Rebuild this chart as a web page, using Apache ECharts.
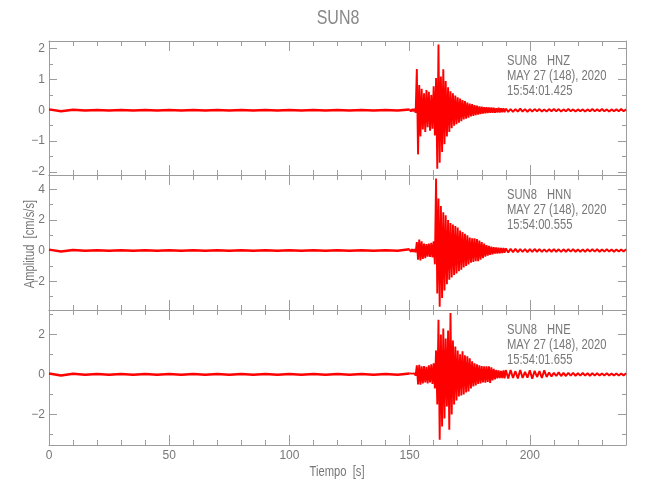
<!DOCTYPE html>
<html><head><meta charset="utf-8">
<script src="https://cdn.jsdelivr.net/npm/echarts@6/dist/echarts.min.js"></script>
<style>html,body{margin:0;padding:0;background:#fff}#c{width:650px;height:500px}</style>
</head><body><div id="c"></div>
<script>
// ---------------- data ----------------
const stationName = 'SUN8';
const dateLabel = 'MAY 27 (148), 2020';
const channels = ['HNZ', 'HNN', 'HNE'];
const startTimes = ['15:54:01.425', '15:54:00.555', '15:54:01.655'];
const xTitle = 'Tiempo  [s]';
const yTitle = 'Amplitud  [cm/s/s]';

const timeRange = [0, 240];
const timeTicks = [0, 50, 100, 150, 200];
const timeMinorTicks = [10,20,30,40,60,70,80,90,110,120,130,140,160,170,180,190,210,220,230];

const hnzRange = [-2.1, 2.25];
const hnzTicks = [-2, -1, 0, 1, 2];
const hnzMinorTicks = [-1.5, -0.5, 0.5, 1.5];
const hnnRange = [-3.88, 4.93];
const hnnTicks = [-2, 0, 2, 4];
const hnnMinorTicks = [-3, -1, 1, 3];
const hneRange = [-3.53, 3.22];
const hneTicks = [-2, 0, 2];
const hneMinorTicks = [-3, -1, 1, 3];

// sample timing of the three segments (s)
const preStart = 0, preStep = 5;
const eventStart = 150, eventStep = 0.5;
const tailStart = 191, tailStep = 1;

// HNZ
const hnzPre = [0.03,-0.03,0.02,-0.01,0.01,-0.01,0.01,-0.01,0.01,-0.01,0.01,-0.01,0.01,-0.01,0.01,-0.01,0.01,-0.01,0.01,-0.01,0.01,-0.01,0.01,-0.01,0.01,-0.01,0.01,-0.01,0.01,-0.01];
const hnzEvent = [0.03,-0.04,0.04,-0.03,0.05,-0.08,1.34,-1.43,0.82,-0.85,
  0.7,-0.62,0.55,-0.7,0.66,-0.55,0.6,-0.66,0.5,-0.6,
  0.78,-0.82,1.05,-1.9,2.14,-1.7,1.1,-1.35,1.33,-1.1,
  0.95,-0.85,0.75,-0.7,0.62,-0.58,0.55,-0.5,0.48,-0.45,
  0.42,-0.4,0.38,-0.35,0.33,-0.3,0.3,-0.27,0.25,-0.24,
  0.22,-0.2,0.2,-0.18,0.17,-0.16,0.15,-0.14,0.13,-0.12,
  0.12,-0.11,0.1,-0.1,0.1,-0.09,0.09,-0.08,0.09,-0.08,
  0.08,-0.08,0.07,-0.07,0.08,-0.07,0.07,-0.06,0.07,-0.06,0.06];
const hnzTail = [-0.05,0.04,-0.05,0.04,-0.04,0.05,-0.04,0.04,-0.05,0.04,-0.04,0.04,-0.03,0.04,-0.04,0.03,-0.04,0.04,-0.03,0.04,-0.03,0.04,-0.04,0.03,-0.03,0.04,-0.03,0.03,-0.04,0.03,-0.03,0.03,-0.04,0.03,-0.03,0.04,-0.03,0.03,-0.03,0.04,-0.03,0.03,-0.04,0.03,-0.03,0.03,-0.03,0.04,-0.03,0.03];

// HNN
const hnnPre = [0.06,-0.06,0.04,-0.02,0.02,-0.02,0.02,-0.02,0.02,-0.02,0.02,-0.02,0.02,-0.02,0.02,-0.02,0.02,-0.02,0.02,-0.02,0.02,-0.02,0.02,-0.02,0.02,-0.02,0.02,-0.02,0.02,-0.02];
const hnnEvent = [0.08,-0.09,0.1,-0.08,0.09,-0.12,0.55,-0.6,0.72,-0.65,
  0.6,-0.55,0.45,-0.5,0.42,-0.4,0.45,-0.42,0.5,-0.45,
  0.6,-0.9,4.7,-2.8,3.4,-3.66,2.9,-3.1,2.5,-2.6,
  2.3,-2.2,2.0,-1.9,1.8,-1.75,1.7,-1.6,1.6,-1.5,
  1.5,-1.35,1.3,-1.25,1.2,-1.1,1.1,-1.0,1.0,-0.9,
  0.85,-0.8,0.8,-0.75,0.8,-0.7,0.75,-0.7,0.65,-0.6,
  0.55,-0.5,0.45,-0.4,0.35,-0.33,0.3,-0.28,0.25,-0.25,
  0.22,-0.2,0.2,-0.2,0.18,-0.18,0.17,-0.16,0.16,-0.15,0.15];
const hnnTail = [-0.12,0.11,-0.1,0.11,-0.1,0.1,-0.09,0.1,-0.1,0.09,-0.09,0.1,-0.08,0.09,-0.09,0.08,-0.09,0.08,-0.08,0.09,-0.08,0.08,-0.09,0.08,-0.08,0.08,-0.07,0.08,-0.08,0.07,-0.08,0.07,-0.08,0.08,-0.07,0.08,-0.07,0.08,-0.08,0.07,-0.07,0.08,-0.07,0.07,-0.08,0.07,-0.07,0.07,-0.07,0.08];

// HNE
const hnePre = [0.05,-0.05,0.03,-0.015,0.015,-0.015,0.015,-0.015,0.015,-0.015,0.015,-0.015,0.015,-0.015,0.015,-0.015,0.015,-0.015,0.015,-0.015,0.015,-0.015,0.015,-0.015,0.015,-0.015,0.015,-0.015,0.015,-0.015];
const hneEvent = [0.05,-0.05,0.04,-0.05,0.05,-0.06,0.45,-0.5,0.48,-0.52,
  0.4,-0.45,0.42,-0.4,0.38,-0.45,0.45,-0.4,0.5,-0.48,
  0.55,-0.7,1.2,-1.5,2.73,-3.27,2.0,-2.6,2.3,-2.2,
  1.8,-1.6,2.2,-2.77,3.07,-2.0,1.7,-1.5,1.4,-1.3,
  1.2,-1.1,1.0,-1.05,1.15,-1.0,0.95,-0.9,0.9,-0.85,
  0.8,-0.7,0.65,-0.6,0.55,-0.55,0.5,-0.48,0.45,-0.45,
  0.42,-0.4,0.4,-0.42,0.4,-0.38,0.4,-0.43,0.35,-0.3,
  0.28,-0.25,0.22,-0.2,0.2,-0.18,0.18,-0.18,0.2,-0.2,0.22];
const hneTail = [-0.2,0.22,-0.18,0.16,-0.2,0.22,-0.18,0.13,-0.16,0.2,-0.22,0.18,-0.13,0.16,-0.18,0.2,-0.13,0.1,-0.1,0.08,-0.08,0.1,-0.08,0.07,-0.08,0.08,-0.06,0.08,-0.07,0.06,-0.06,0.07,-0.06,0.06,-0.07,0.06,-0.05,0.06,-0.06,0.05,-0.05,0.06,-0.05,0.05,-0.06,0.05,-0.05,0.05,-0.05,0.06];

// ---------------- chart ----------------
const FONT = "'Liberation Sans',Arial,sans-serif";
const AX = '#9c9c9c', TX = '#777777', RED = '#ff0000';
const NARROW = 0.8;

const panels = [
  {range: hnzRange, ticks: hnzTicks, minor: hnzMinorTicks, pre: hnzPre, ev: hnzEvent, tail: hnzTail},
  {range: hnnRange, ticks: hnnTicks, minor: hnnMinorTicks, pre: hnnPre, ev: hnnEvent, tail: hnnTail},
  {range: hneRange, ticks: hneTicks, minor: hneMinorTicks, pre: hnePre, ev: hneEvent, tail: hneTail}
];
const gridTops = [41, 175, 310];
const gridHeights = [134, 135, 135];
const L = 49, W = 577;

function seg(start, step, vals) { return vals.map((v, i) => [+(start + i * step).toFixed(3), v]); }
const fmt = v => (v < 0 ? '\u2212' + Math.abs(v) : String(v));

const grid = [], xAxis = [], yAxis = [], series = [], graphic = [];
for (let layer = 0; layer < 2; layer++) {
  for (let p = 0; p < 3; p++) {
    grid.push({left: L, width: W, top: gridTops[p], height: gridHeights[p], containLabel: false});
  }
}
function xa(gi, pos, vals, len, line, labels) {
  return {type: 'value', gridIndex: gi, position: pos, min: timeRange[0], max: timeRange[1],
    axisLine: {show: line, onZero: false, lineStyle: {color: AX, width: 1}},
    axisTick: {show: true, inside: true, length: len, customValues: vals, lineStyle: {color: AX}},
    axisLabel: {show: !!labels, customValues: timeTicks, margin: 5, color: TX, fontFamily: FONT, fontSize: 12},
    splitLine: {show: false}};
}
function ya(gi, pos, rng, vals, len, line, labels, lab) {
  return {type: 'value', gridIndex: gi, position: pos, min: rng[0], max: rng[1],
    axisLine: {show: line, onZero: false, lineStyle: {color: AX, width: 1}},
    axisTick: {show: true, inside: true, length: len, customValues: vals, lineStyle: {color: AX}},
    axisLabel: {show: !!labels, customValues: lab, formatter: fmt, margin: 4, color: TX, fontFamily: FONT, fontSize: 12},
    splitLine: {show: false}};
}
for (let p = 0; p < 3; p++) {
  const P = panels[p];
  xAxis.push(xa(p, 'bottom', timeTicks, 10, true, p === 2));
  xAxis.push(xa(p, 'top', timeTicks, 10, true, false));
  yAxis.push(ya(p, 'left', P.range, P.ticks, 8, true, true, P.ticks));
  yAxis.push(ya(p, 'right', P.range, P.ticks, 8, true, false, P.ticks));
}
for (let p = 0; p < 3; p++) {
  const P = panels[p];
  xAxis.push(xa(3 + p, 'bottom', timeMinorTicks, 5, false, false));
  xAxis.push(xa(3 + p, 'top', timeMinorTicks, 5, false, false));
  yAxis.push(ya(3 + p, 'left', P.range, P.minor, 4, false, false, P.minor));
  yAxis.push(ya(3 + p, 'right', P.range, P.minor, 4, false, false, P.minor));
}
function txt(x, y, text, size, extra) {
  return Object.assign({type: 'text', x: x, y: y, scaleX: NARROW,
    style: {text: text, fill: TX, font: size + 'px ' + FONT, verticalAlign: 'middle'}}, extra || {});
}
for (let p = 0; p < 3; p++) {
  const P = panels[p];
  const evData = seg(eventStart, eventStep, P.ev);
  const preData = seg(preStart, preStep, P.pre).concat([evData[0]]);
  const tailData = [evData[evData.length - 1]].concat(seg(tailStart, tailStep, P.tail));
  const base = {type: 'line', xAxisIndex: 2 * p, yAxisIndex: 2 * p, showSymbol: false, symbol: 'none',
    animation: false, silent: true, sampling: null, clip: true};
  series.push(Object.assign({}, base, {data: preData, lineStyle: {color: RED, width: 2.5}}));
  series.push(Object.assign({}, base, {data: evData, lineStyle: {color: RED, width: 1.9}}));
  series.push(Object.assign({}, base, {data: tailData, lineStyle: {color: RED, width: 2}}));

  const t0 = gridTops[p];
  graphic.push(txt(507, t0 + 20, stationName, 14));
  graphic.push(txt(547, t0 + 20, channels[p], 14));
  graphic.push(txt(507, t0 + 35, dateLabel, 14));
  graphic.push(txt(507, t0 + 50, startTimes[p], 14));
}
graphic.push({type: 'text', x: 338, y: 18, scaleX: NARROW, style: {text: stationName, fill: '#888', font: '20px ' + FONT, align: 'center', verticalAlign: 'middle'}});
graphic.push({type: 'text', x: 337, y: 472, scaleX: NARROW, style: {text: xTitle, fill: TX, font: '14px ' + FONT, align: 'center', verticalAlign: 'middle'}});
graphic.push({type: 'text', x: 30, y: 244, rotation: Math.PI / 2, scaleX: NARROW, style: {text: yTitle, fill: TX, font: '14px ' + FONT, align: 'center', verticalAlign: 'middle'}});

const chart = echarts.init(document.getElementById('c'), null, {renderer: 'canvas'});
chart.setOption({animation: false, backgroundColor: '#fff', grid, xAxis, yAxis, series, graphic});
</script>
</body></html>
